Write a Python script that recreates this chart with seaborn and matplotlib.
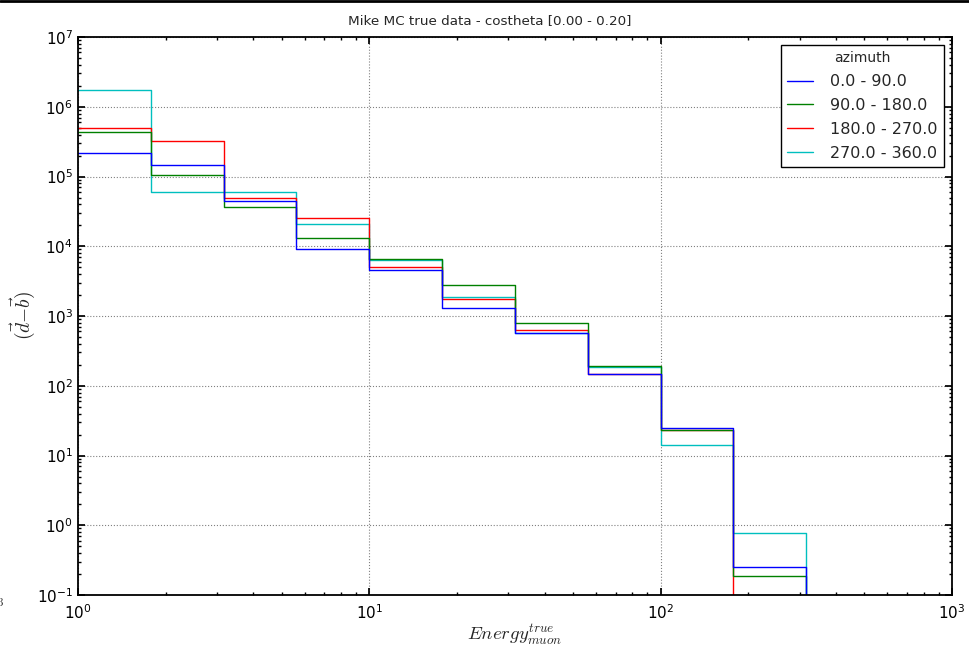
import numpy as np
import pandas as pd
import seaborn as sns
import matplotlib.pyplot as plt
from matplotlib.lines import Line2D

# energy bin edges (GeV), last edge closes the histogram outline
energy_edges = [1.0, 1.778, 3.162, 5.623, 10.0, 17.78, 31.62, 56.23, 100.0, 177.8, 316.2]
closing_edge = 562.3

azimuth_bins = ['0.0 - 90.0', '90.0 - 180.0', '180.0 - 270.0', '270.0 - 360.0']
counts_0_90 = [2.15e5, 1.45e5, 4.45e4, 9.2e3, 4.6e3, 1.32e3, 565, 146, 24.5, 0.25]
counts_90_180 = [4.3e5, 1.04e5, 3.7e4, 1.3e4, 6.6e3, 2.78e3, 785, 192, 23.5, 0.19]
counts_180_270 = [5.0e5, 3.2e5, 5.0e4, 2.57e4, 5.0e3, 1.74e3, 622, 146, 23.2, 0.0]
counts_270_360 = [1.74e6, 5.9e4, 6.0e4, 2.06e4, 6.4e3, 1.87e3, 575, 185, 14.2, 0.78]
colors = ['#0000ff', '#008000', '#ff0000', '#00bfbf']

edges = np.array(energy_edges)
centres = np.sqrt(edges[:-1] * edges[1:])
rows = []
for name, vals in zip(azimuth_bins, [counts_0_90, counts_90_180, counts_180_270, counts_270_360]):
    for e, v in zip(centres, vals):
        rows.append({'energy': e, 'counts': v, 'azimuth': name})
df = pd.DataFrame(rows)

sns.set_theme(style='white', rc={
    'axes.edgecolor': 'black',
    'axes.linewidth': 1.3,
    'xtick.direction': 'in', 'ytick.direction': 'in',
    'xtick.top': True, 'ytick.right': True,
    'xtick.bottom': True, 'ytick.left': True,
    'xtick.major.size': 5, 'ytick.major.size': 5,
    'xtick.minor.size': 2.5, 'ytick.minor.size': 2.5,
    'xtick.minor.visible': True, 'ytick.minor.visible': True,
    'xtick.color': 'black', 'ytick.color': 'black',
    'grid.linestyle': ':', 'grid.color': '#808080', 'grid.linewidth': 0.8,
    'mathtext.fontset': 'cm',
})
plt.rcParams['font.family'] = ['DejaVu Sans']

fig = plt.figure(figsize=(9.7, 6.54), dpi=100)
ax = fig.add_axes([0.0804, 0.0902, 0.9010, 0.8532])

log_bins = np.log10(energy_edges + [closing_edge]).tolist()
sns.histplot(data=df, x='energy', weights='counts', hue='azimuth',
             hue_order=azimuth_bins, palette=colors, bins=log_bins,
             element='step', fill=False, log_scale=(True, True),
             linewidth=1.0, ax=ax)
# empty bins drop to the bottom of the axes
ax.set_yscale('log', nonpositive='clip')

ax.set_xlim(1, 1000)
ax.set_ylim(0.1, 1e7)
ax.grid(True, which='major')
ax.tick_params(labelsize=11, colors='black')
ax.tick_params(axis='x', pad=6)
ax.set_xlabel(r'$Energy_{muon}^{true}$', fontsize=13.5)
ax.xaxis.set_label_coords(0.5, -0.05)
ax.set_ylabel(r'$(\vec{d}{-}\vec{b})$', fontsize=14)
ax.yaxis.set_label_coords(-0.047, 0.5)

sns.move_legend(ax, 'upper right', title='azimuth', fontsize=11.5, title_fontsize=10,
                frameon=True, fancybox=False, framealpha=1, edgecolor='black',
                handlelength=1.6, handletextpad=1.1, labelspacing=0.55,
                borderaxespad=0.5)
ax.get_legend().get_frame().set_linewidth(1.0)

fig.suptitle('Mike MC true data - costheta [0.00 - 0.20]', fontsize=9.7, x=0.505, y=0.978)
fig.text(0.005, 0.072, r'$10^3$', fontsize=11, ha='right', va='center')
fig.add_artist(Line2D([0, 1], [0.999, 0.999], transform=fig.transFigure, color='black', lw=2))

fig.savefig('out.png', dpi=100)
